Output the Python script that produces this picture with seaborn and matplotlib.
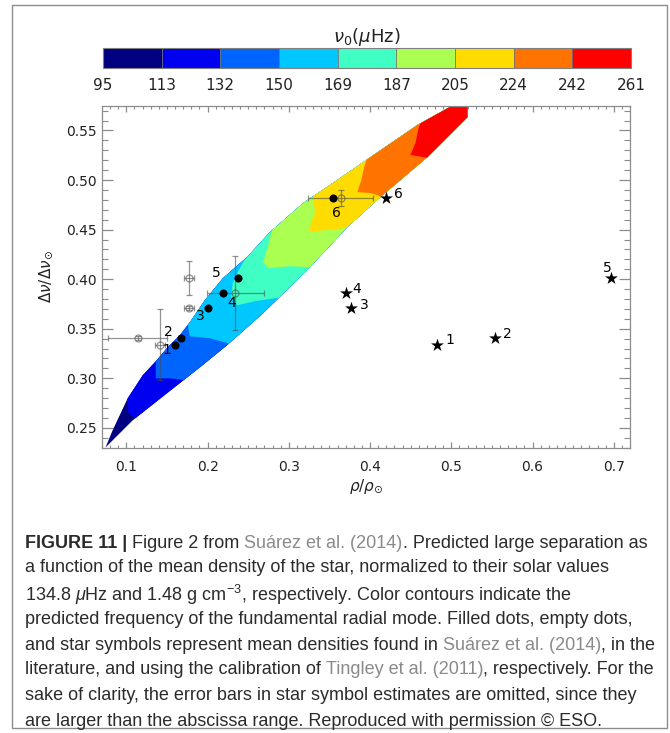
import matplotlib
matplotlib.use("Agg")
import matplotlib.pyplot as plt
import seaborn as sns
from matplotlib.patches import Polygon, Rectangle
from matplotlib.colors import ListedColormap, BoundaryNorm
from matplotlib.ticker import MultipleLocator
import matplotlib as mpl

# colour levels of the fundamental radial mode nu0 (muHz)
levels = [95, 113, 132, 150, 169, 187, 205, 224, 242, 261]
level_colors = ["#000080", "#0000f0", "#0064ff", "#00c8ff", "#40ffc4",
                "#aaff50", "#ffdc00", "#ff7300", "#ff0000"]

# outline of the model band (rho/rho_sun vs dnu/dnu_sun)
upper_rho = [0.0744, 0.0831, 0.1016, 0.1201, 0.1374, 0.1498, 0.1658, 0.1783,
             0.1967, 0.2189, 0.2485, 0.2769, 0.3177, 0.3596, 0.3917, 0.4584, 0.5028]
upper_dnu = [0.2303, 0.2475, 0.2798, 0.3030, 0.3182, 0.3303, 0.3434, 0.3566,
             0.3788, 0.4010, 0.4222, 0.4475, 0.4768, 0.5000, 0.5182, 0.5556, 0.5758]
lower_rho = [0.0744, 0.1078, 0.1498, 0.1905, 0.2238, 0.2683, 0.3226, 0.3720,
             0.4128, 0.4708, 0.5201]
lower_dnu = [0.2303, 0.2576, 0.2848, 0.3111, 0.3333, 0.3657, 0.4091, 0.4525,
             0.4828, 0.5232, 0.5636]

# contour lines between the colour levels 113 ... 242 (crossing the band)
bound_rho = [
    [0.0893, 0.1004, 0.1028, 0.1115, 0.1288],
    [0.1288, 0.1362, 0.1362, 0.1535, 0.1732, 0.1843],
    [0.1683, 0.1744, 0.1781, 0.2028, 0.2251, 0.2337],
    [0.2523, 0.2399, 0.2312, 0.2288, 0.2362, 0.2584, 0.2831, 0.3016],
    [0.2819, 0.2794, 0.2745, 0.2684, 0.2745, 0.3016, 0.3263, 0.3386],
    [0.3337, 0.3300, 0.3324, 0.3275, 0.3251, 0.3448, 0.3695, 0.3880],
    [0.3979, 0.3930, 0.3893, 0.3843, 0.4004, 0.4128, 0.4251],
    [0.4646, 0.4597, 0.4559, 0.4498, 0.4720, 0.4868],
]
bound_dnu = [
    [0.2859, 0.2798, 0.2646, 0.2596, 0.2475],
    [0.3232, 0.3162, 0.3000, 0.3000, 0.2980, 0.2899],
    [0.3687, 0.3606, 0.3424, 0.3404, 0.3354, 0.3263],
    [0.4293, 0.4111, 0.3970, 0.3828, 0.3737, 0.3778, 0.3808, 0.3808],
    [0.4545, 0.4495, 0.4343, 0.4172, 0.4111, 0.4131, 0.4121, 0.4071],
    [0.4919, 0.4818, 0.4667, 0.4576, 0.4475, 0.4495, 0.4515, 0.4576],
    [0.5253, 0.5141, 0.5000, 0.4879, 0.4869, 0.4838, 0.4798],
    [0.5626, 0.5525, 0.5374, 0.5253, 0.5222, 0.5182],
]

# the six stars
star_ids = ["1", "2", "3", "4", "5", "6"]
dnu_obs = [0.334, 0.341, 0.371, 0.386, 0.401, 0.482]
rho_suarez = [0.160, 0.167, 0.201, 0.219, 0.237, 0.355]
rho_tingley = [0.483, 0.554, 0.377, 0.370, 0.697, 0.420]
rho_lit = [0.141, 0.114, 0.177, 0.234, 0.177, 0.364]
rho_lit_err = [0.006, 0.036, 0.006, 0.035, 0.006, 0.040]
dnu_lit_err = [0.036, 0.002, 0.002, 0.037, 0.017, 0.008]

# label offsets (points) for the filled dots and star symbols
dot_label_off = [(-6, -4), (-9, 4), (-6, -6), (6, -7), (-15, 4), (2, -11)]
star_label_off = [(9, 3), (9, 3), (9, 2), (8, 3), (-3, 7), (9, 3)]

sns.set_style("ticks")
plt.rcParams["font.family"] = ["DejaVu Sans"]
plt.rcParams["mathtext.fontset"] = "dejavusans"

W, H = 670, 733
fig = plt.figure(figsize=(W / 100, H / 100), dpi=100)
fig.patch.set_facecolor("white")

ax = fig.add_axes([0.1522, 0.3892, 0.7881, 0.4666])
ax.set_facecolor("white")

# model band, layered colour contours clipped to it
band_pts = list(zip(upper_rho, upper_dnu)) + [(upper_rho[-1], 0.60), (lower_rho[-1], 0.60)] \
    + list(zip(lower_rho, lower_dnu))[::-1]
band = Polygon(band_pts, closed=True, fc=level_colors[0], ec="none", zorder=1)
ax.add_patch(band)
for k in range(len(bound_rho)):
    pts = list(zip(bound_rho[k], bound_dnu[k]))
    pts += [(1.0, bound_dnu[k][-1]), (1.0, 1.0), (bound_rho[k][0], 1.0)]
    p = Polygon(pts, closed=True, fc=level_colors[k + 1], ec="none", zorder=1)
    ax.add_patch(p)
    p.set_clip_path(band)

# literature values (empty dots with error bars)
ax.errorbar(rho_lit, dnu_obs, xerr=rho_lit_err, yerr=dnu_lit_err, fmt="o",
            mfc="none", mec="0.3", ms=5, mew=0.9, ecolor="0.3", elinewidth=0.9,
            capsize=2.5, capthick=0.9, alpha=0.6, zorder=3)

# Suarez et al. (2014) and Tingley et al. (2011) estimates
sns.scatterplot(x=rho_suarez, y=dnu_obs, ax=ax, color="black", marker="o",
                s=34, edgecolor="black", linewidth=0, zorder=5)
sns.scatterplot(x=rho_tingley, y=dnu_obs, ax=ax, color="black", marker="*",
                s=95, edgecolor="black", linewidth=0, zorder=5)

for i, sid in enumerate(star_ids):
    ax.annotate(sid, (rho_suarez[i], dnu_obs[i]), xytext=dot_label_off[i],
                textcoords="offset points", ha="center", va="center",
                fontsize=10, color="black", zorder=6)
    ax.annotate(sid, (rho_tingley[i], dnu_obs[i]), xytext=star_label_off[i],
                textcoords="offset points", ha="center", va="center",
                fontsize=10, color="black", zorder=6)

ax.set_xlim(0.07, 0.72)
ax.set_ylim(0.23, 0.575)
ax.xaxis.set_major_locator(MultipleLocator(0.1))
ax.xaxis.set_minor_locator(MultipleLocator(0.01))
ax.yaxis.set_major_locator(MultipleLocator(0.05))
ax.yaxis.set_minor_locator(MultipleLocator(0.01))
ax.xaxis.set_major_formatter(mpl.ticker.FormatStrFormatter("%.1f"))
ax.yaxis.set_major_formatter(mpl.ticker.FormatStrFormatter("%.2f"))
for s in ax.spines.values():
    s.set_visible(True)
    s.set_color("0.55")
    s.set_linewidth(0.9)
ax.tick_params(axis="both", which="both", direction="in", top=True, right=True,
               colors="0.55", labelcolor="#222222", labelsize=10)
ax.tick_params(axis="x", which="major", length=4.3, width=0.9, pad=9)
ax.tick_params(axis="x", which="minor", length=2.0, width=0.8)
ax.tick_params(axis="y", which="major", length=8, width=0.9, pad=4)
ax.tick_params(axis="y", which="minor", length=4, width=0.8)
ax.set_xlabel(r"$\rho/\rho_{\odot}$", fontsize=11, color="#222222", labelpad=2)
ax.set_ylabel(r"$\Delta\nu/\Delta\nu_{\odot}$", fontsize=11, color="#222222", labelpad=8)

# colour bar on top
cax = fig.add_axes([0.1537, 0.9072, 0.788, 0.0273])
cmap = ListedColormap(level_colors)
norm = BoundaryNorm(levels, cmap.N)
cb = mpl.colorbar.ColorbarBase(cax, cmap=cmap, norm=norm, orientation="horizontal",
                               ticks=levels, drawedges=True)
cb.outline.set_edgecolor("0.5")
cb.outline.set_linewidth(0.8)
cb.dividers.set_color("0.45")
cb.dividers.set_linewidth(0.6)
cax.tick_params(length=0, pad=7, labelsize=11, labelcolor="#222222")
cax.set_xticklabels([str(v) for v in levels])
cax.set_title(r"$\nu_0(\mu\mathrm{Hz})$", fontsize=13, color="#222222", pad=4)

# frame round figure and caption
fig.add_artist(Rectangle((12 / W, 1 - 728 / H), 655 / W, 723 / H, transform=fig.transFigure,
                         fill=False, ec="0.55", lw=1.0))

# caption, one line at a time, pieces placed after each other
cap_color = "#2b2b2b"
link_color = "#8a8a8a"
cap_font = "Liberation Sans"
cap_size = 13
caption = [
    [("FIGURE 11 | ", "bold", cap_color), ("Figure 2 from ", "normal", cap_color),
     ("Suárez et al. (2014)", "normal", link_color),
     (". Predicted large separation as", "normal", cap_color)],
    [("a function of the mean density of the star, normalized to their solar values", "normal", cap_color)],
    [(r"134.8 $\mu$Hz and 1.48 g cm$^{-3}$, respectively. Color contours indicate the", "normal", cap_color)],
    [("predicted frequency of the fundamental radial mode. Filled dots, empty dots,", "normal", cap_color)],
    [("and star symbols represent mean densities found in ", "normal", cap_color),
     ("Suárez et al. (2014)", "normal", link_color), (", in the", "normal", cap_color)],
    [("literature, and using the calibration of ", "normal", cap_color),
     ("Tingley et al. (2011)", "normal", link_color), (", respectively. For the", "normal", cap_color)],
    [("sake of clarity, the error bars in star symbol estimates are omitted, since they", "normal", cap_color)],
    [("are larger than the abscissa range. Reproduced with permission © ESO.", "normal", cap_color)],
]
line_y = [541, 566, 592, 617, 643, 668, 694, 719]

plt.rcParams["mathtext.fontset"] = "custom"
plt.rcParams["mathtext.rm"] = cap_font
plt.rcParams["mathtext.it"] = cap_font + ":italic"
renderer = fig.canvas.get_renderer()
for yy, pieces in zip(line_y, caption):
    x = 25.0
    for txt, weight, col in pieces:
        t = fig.text(x / W, 1 - yy / H, txt, fontsize=cap_size, family=cap_font,
                     weight=weight, color=col, ha="left", va="center_baseline")
        bb = t.get_window_extent(renderer)
        x = bb.x1

fig.savefig("out.png", dpi=100)
